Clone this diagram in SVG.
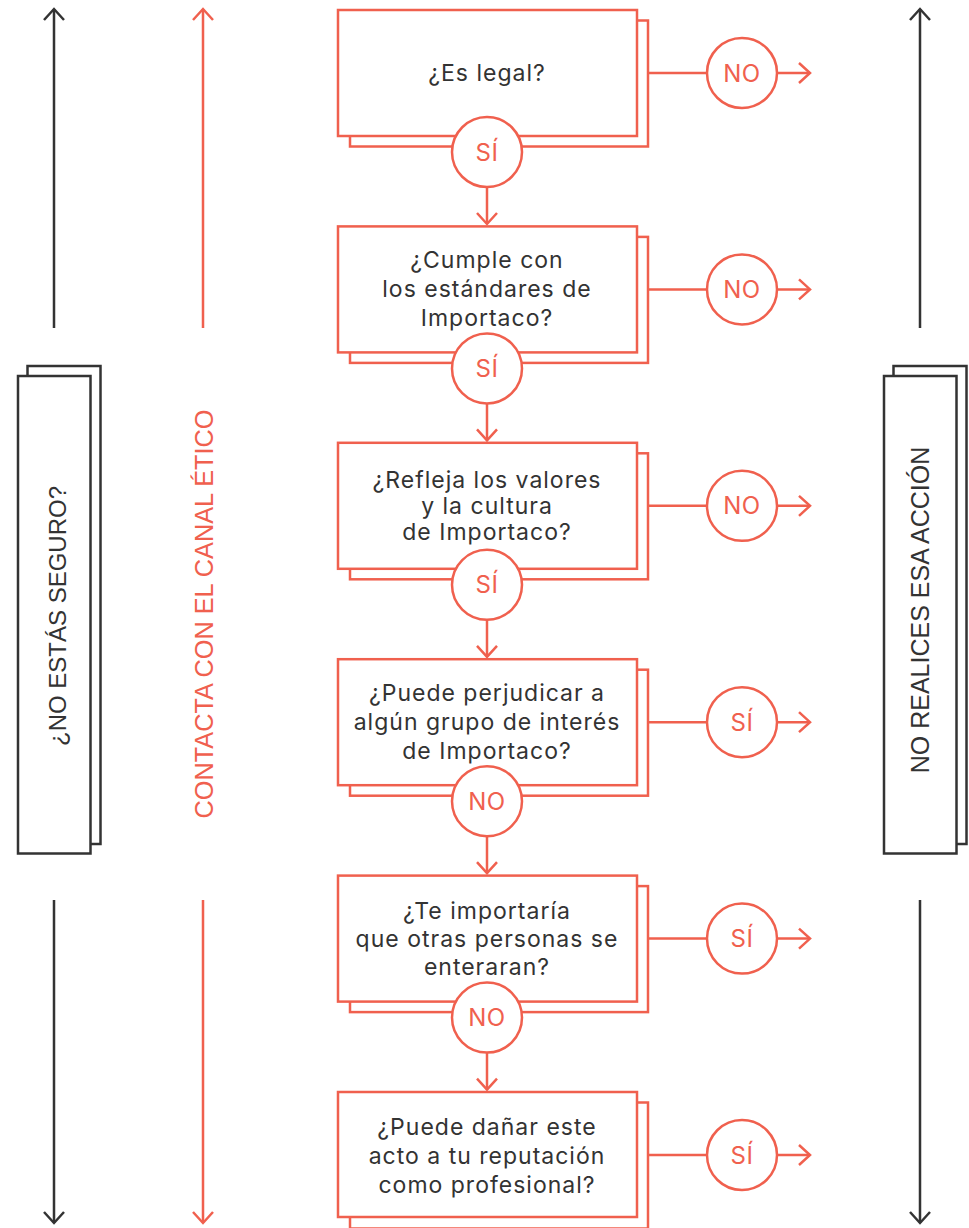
<svg xmlns="http://www.w3.org/2000/svg" width="969" height="1228" viewBox="0 0 969 1228">
  <defs>
    <style>
      .bg { fill: #ffffff; }
      .box { fill: #ffffff; stroke: #F0604E; stroke-width: 2.5; }
      .panel { fill: #ffffff; stroke: #333333; stroke-width: 2.5; }
      .rl { fill: none; stroke: #F0604E; stroke-width: 2.5; }
      .dl { fill: none; stroke: #333333; stroke-width: 2.5; }
      .circ { fill: #ffffff; stroke: #F0604E; stroke-width: 2.5; }
      .q { font-family: Inter, "Noto Sans", sans-serif; font-size: 23px; letter-spacing: 1px; fill: #333333; text-anchor: middle; }
      .c { font-family: Inter, "Noto Sans", sans-serif; font-size: 24px; letter-spacing: 0.6px; fill: #F0604E; text-anchor: middle; }
      .vt { font-family: "Liberation Sans", Arial, sans-serif; font-size: 24px; fill: #333333; text-anchor: middle; }
      .vr { font-family: "Liberation Sans", Arial, sans-serif; font-size: 25.3px; fill: #F0604E; text-anchor: middle; }
    </style>
    <marker id="ar" viewBox="-13 -12 16 24" refX="0" refY="0" markerWidth="16" markerHeight="24" markerUnits="userSpaceOnUse" orient="auto">
      <path d="M-11,-10 L0,0 L-11,10" fill="none" stroke="#F0604E" stroke-width="2.5"/>
    </marker>
    <marker id="ad" viewBox="-13 -12 16 24" refX="0" refY="0" markerWidth="16" markerHeight="24" markerUnits="userSpaceOnUse" orient="auto">
      <path d="M-11,-10 L0,0 L-11,10" fill="none" stroke="#333333" stroke-width="2.5"/>
    </marker>
  </defs>
  <rect class="bg" x="0" y="0" width="969" height="1228"/>

  <g id="connectors">
    <line class="dl" x1="54" y1="328" x2="54" y2="9" marker-end="url(#ad)"/>
    <line class="dl" x1="54" y1="900" x2="54" y2="1223" marker-end="url(#ad)"/>
    <line class="rl" x1="203" y1="328" x2="203" y2="9" marker-end="url(#ar)"/>
    <line class="rl" x1="203" y1="900" x2="203" y2="1223" marker-end="url(#ar)"/>
    <line class="dl" x1="920" y1="328" x2="920" y2="9" marker-end="url(#ad)"/>
    <line class="dl" x1="920" y1="900" x2="920" y2="1223" marker-end="url(#ad)"/>
    <line class="rl" x1="648" y1="73" x2="707" y2="73"/>
    <line class="rl" x1="777" y1="73" x2="810" y2="73" marker-end="url(#ar)"/>
    <line class="rl" x1="648" y1="289.4" x2="707" y2="289.4"/>
    <line class="rl" x1="777" y1="289.4" x2="810" y2="289.4" marker-end="url(#ar)"/>
    <line class="rl" x1="648" y1="505.8" x2="707" y2="505.8"/>
    <line class="rl" x1="777" y1="505.8" x2="810" y2="505.8" marker-end="url(#ar)"/>
    <line class="rl" x1="648" y1="722.2" x2="707" y2="722.2"/>
    <line class="rl" x1="777" y1="722.2" x2="810" y2="722.2" marker-end="url(#ar)"/>
    <line class="rl" x1="648" y1="938.6" x2="707" y2="938.6"/>
    <line class="rl" x1="777" y1="938.6" x2="810" y2="938.6" marker-end="url(#ar)"/>
    <line class="rl" x1="648" y1="1155" x2="707" y2="1155"/>
    <line class="rl" x1="777" y1="1155" x2="810" y2="1155" marker-end="url(#ar)"/>
    <line class="rl" x1="487" y1="187" x2="487" y2="224" marker-end="url(#ar)"/>
    <line class="rl" x1="487" y1="403.4" x2="487" y2="440.4" marker-end="url(#ar)"/>
    <line class="rl" x1="487" y1="619.8" x2="487" y2="656.8" marker-end="url(#ar)"/>
    <line class="rl" x1="487" y1="836.2" x2="487" y2="873.2" marker-end="url(#ar)"/>
    <line class="rl" x1="487" y1="1052.6" x2="487" y2="1089.6" marker-end="url(#ar)"/>
  </g>

  <g id="panel-left">
    <rect class="panel" x="27.5" y="366" width="73" height="478"/>
    <rect class="panel" x="18" y="376" width="72.5" height="477.5"/>
    <text class="vt" transform="translate(66,616) rotate(-90)">¿NO ESTÁS SEGURO?</text>
  </g>

  <g id="label-canal">
    <text class="vr" transform="translate(213,614) rotate(-90)">CONTACTA CON EL CANAL ÉTICO</text>
  </g>

  <g id="panel-right">
    <rect class="panel" x="893.5" y="366" width="73" height="478"/>
    <rect class="panel" x="884" y="376" width="72.5" height="477.5"/>
    <text class="vt" transform="translate(929,610) rotate(-90)" style="font-size:25px">NO REALICES ESA ACCIÓN</text>
  </g>

  <g id="q1">
    <rect class="box" x="350" y="20.5" width="298" height="126"/>
    <rect class="box" x="338" y="10" width="299" height="126"/>
    <text class="q" x="487" y="81">¿Es legal?</text>
  </g>
  <g id="q1-yes"><circle class="circ" cx="487" cy="152" r="35"/><text class="c" x="487" y="160.5">SÍ</text></g>
  <g id="q1-no"><circle class="circ" cx="742" cy="73" r="35"/><text class="c" x="742" y="81.5">NO</text></g>

  <g id="q2">
    <rect class="box" x="350" y="236.9" width="298" height="126"/>
    <rect class="box" x="338" y="226.4" width="299" height="126"/>
    <text class="q" x="487" y="268.4">¿Cumple con</text>
    <text class="q" x="487" y="297.4">los estándares de</text>
    <text class="q" x="487" y="326.4">Importaco?</text>
  </g>
  <g id="q2-yes"><circle class="circ" cx="487" cy="368.4" r="35"/><text class="c" x="487" y="376.9">SÍ</text></g>
  <g id="q2-no"><circle class="circ" cx="742" cy="289.4" r="35"/><text class="c" x="742" y="297.9">NO</text></g>

  <g id="q3">
    <rect class="box" x="350" y="453.3" width="298" height="126"/>
    <rect class="box" x="338" y="442.8" width="299" height="126"/>
    <text class="q" x="487" y="488">¿Refleja los valores</text>
    <text class="q" x="487" y="514">y la cultura</text>
    <text class="q" x="487" y="540">de Importaco?</text>
  </g>
  <g id="q3-yes"><circle class="circ" cx="487" cy="584.8" r="35"/><text class="c" x="487" y="593.3">SÍ</text></g>
  <g id="q3-no"><circle class="circ" cx="742" cy="505.8" r="35"/><text class="c" x="742" y="514.3">NO</text></g>

  <g id="q4">
    <rect class="box" x="350" y="669.7" width="298" height="126"/>
    <rect class="box" x="338" y="659.2" width="299" height="126"/>
    <text class="q" x="487" y="701.2">¿Puede perjudicar a</text>
    <text class="q" x="487" y="730.2">algún grupo de interés</text>
    <text class="q" x="487" y="759.2">de Importaco?</text>
  </g>
  <g id="q4-no"><circle class="circ" cx="487" cy="801.2" r="35"/><text class="c" x="487" y="809.7">NO</text></g>
  <g id="q4-yes"><circle class="circ" cx="742" cy="722.2" r="35"/><text class="c" x="742" y="730.7">SÍ</text></g>

  <g id="q5">
    <rect class="box" x="350" y="886.1" width="298" height="126"/>
    <rect class="box" x="338" y="875.6" width="299" height="126"/>
    <text class="q" x="487" y="918.6">¿Te importaría</text>
    <text class="q" x="487" y="946.6">que otras personas se</text>
    <text class="q" x="487" y="974.6">enteraran?</text>
  </g>
  <g id="q5-no"><circle class="circ" cx="487" cy="1017.6" r="35"/><text class="c" x="487" y="1026.1">NO</text></g>
  <g id="q5-yes"><circle class="circ" cx="742" cy="938.6" r="35"/><text class="c" x="742" y="947.1">SÍ</text></g>

  <g id="q6">
    <rect class="box" x="350" y="1102.5" width="298" height="126"/>
    <rect class="box" x="338" y="1092" width="299" height="125"/>
    <text class="q" x="487" y="1135">¿Puede dañar este</text>
    <text class="q" x="487" y="1164">acto a tu reputación</text>
    <text class="q" x="487" y="1193">como profesional?</text>
  </g>
  <g id="q6-yes"><circle class="circ" cx="742" cy="1155" r="35"/><text class="c" x="742" y="1163.5">SÍ</text></g>
</svg>
